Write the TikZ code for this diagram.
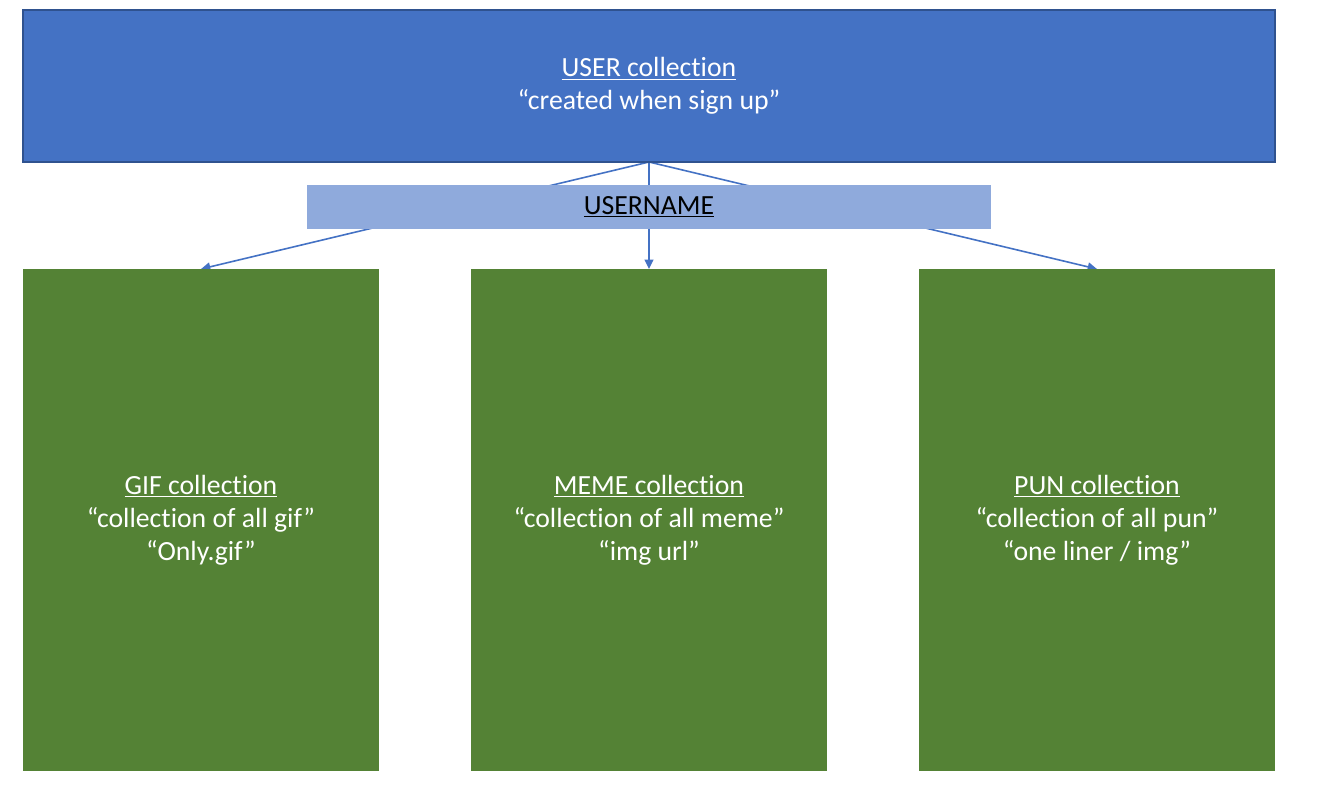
\documentclass[tikz,border=0pt]{standalone}
\usepackage{fontspec}
\setmainfont{Carlito}[Ligatures=NoCommon]
\usepackage{xcolor}
\usetikzlibrary{arrows.meta, positioning, backgrounds}

\definecolor{userblue}{HTML}{4472C4}
\definecolor{userborder}{HTML}{2F528F}
\definecolor{keyblue}{HTML}{8FAADC}
\definecolor{collgreen}{HTML}{548235}

\begin{document}
\begin{tikzpicture}[
  top/.style={draw=userborder, line width=1pt, fill=userblue, text=white, minimum width=939pt, minimum height=114pt, align=center, inner sep=0pt, outer sep=0pt, font=\fontsize{20.8}{24.75}\selectfont},
  key/.style={fill=keyblue, minimum width=512.25pt, minimum height=33pt, align=center, inner sep=0pt, outer sep=0pt, font=\fontsize{20.8}{24.75}\selectfont},
  coll/.style={fill=collgreen, text=white, minimum width=267pt, minimum height=376.5pt, align=center, inner sep=0pt, outer sep=0pt, font=\fontsize{20.8}{24.75}\selectfont},
  link/.style={draw=userblue, line width=1.2pt, -{Triangle[length=7pt, width=6.5pt]}},
  node distance=30pt and 69pt
]
\useasboundingbox (-486.75pt,64.5pt) rectangle (502.5pt,-531.75pt);

\node[top] (user) at (0,0) {\underline{USER collection}\\“created when sign up”};
\node[key, below=17.25pt of user] (uname) {\underline{USERNAME}};
\node[coll, below=of uname] (meme) {\underline{MEME collection}\\“collection of all meme”\\“img url”};
\node[coll, left=of meme]  (gif) {\underline{GIF collection}\\“collection of all gif”\\“Only.gif”};
\node[coll, right=of meme] (pun) {\underline{PUN collection}\\“collection of all pun”\\“one liner / img”};

% links run behind the username bar
\begin{scope}[on background layer]
\draw[link] (user.south) -- (gif.north);
\draw[link] (user.south) -- (meme.north);
\draw[link] (user.south) -- (pun.north);
\end{scope}
\end{tikzpicture}
\end{document}
